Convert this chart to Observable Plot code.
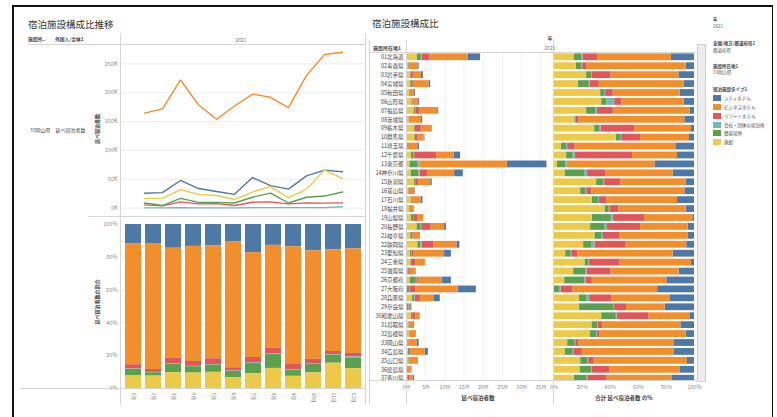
<!DOCTYPE html>
<html><head><meta charset="utf-8">
<script src="https://cdn.jsdelivr.net/npm/d3@7"></script>
<script src="https://cdn.jsdelivr.net/npm/@observablehq/plot@0.6"></script>
<style>
body{margin:0;background:#fff;font-family:"Noto Sans CJK JP","Noto Sans",sans-serif;}
#root{position:relative;width:777px;height:417px;overflow:hidden;background:#fff;}
#root svg{position:absolute;left:0;top:0;}
.t{position:absolute;white-space:nowrap;color:#333;line-height:1;}
.ln{position:absolute;background:#d6d6d6;}
</style></head><body><div id="root"></div><script>
// ---------- data ----------
const months = ["1月","2月","3月","4月","5月","6月","7月","8月","9月","10月","11月","12月"];
const types = ["シティホテル","ビジネスホテル","リゾートホテル","会社・団体の宿泊所","簡易宿所","旅館"];
const typeColors = ["#4e79a7","#f28e2b","#e15759","#76b7b2","#59a14f","#edc948"];
const stackOrder = ["旅館","簡易宿所","会社・団体の宿泊所","リゾートホテル","ビジネスホテル","シティホテル"];

// 33岡山県 monthly 延べ宿泊者数 (K)
const cityK     = [26,27,48,34,29,24,53,39,33,56,66,63];
const businessK = [164.5,172,222,179,154,177,197.5,192,174,230,266,270];
const resortK   = [5.8,4,11,7.5,8,4.6,10.4,11,7.5,9.2,8.7,9.2];
const companyK  = [0.5,0.5,1,0.5,0.5,0.5,1,1,1,1,1,2.5];
const simpleK   = [9,4.6,17,10,10,9,19,26,9,19,21,28];
const ryokanK   = [17,17,32,24,22,15,28,37.5,18,33,66,51];

const yTicksK = [0,50,100,150,200,250];
const pctTicks = [0,0.2,0.4,0.6,0.8,1];
const mTicks = [0,5,10,15,20,25,30,35];

const prefs = ["01北海道","02青森県","03岩手県","04宮城県","05秋田県","06山形県","07福島県","08茨城県","09栃木県","10群馬県","11埼玉県","12千葉県","13東京都","14神奈川県","15新潟県","16富山県","17石川県","18福井県","19山梨県","20長野県","21岐阜県","22静岡県","23愛知県","24三重県","25滋賀県","26京都府","27大阪府","28兵庫県","29奈良県","30和歌山県","31鳥取県","32島根県","33岡山県","34広島県","35山口県","36徳島県","37香川県"];
// 2021 total 延べ宿泊者数 (M)
const totalsM = [19.3,3.3,4.4,6.3,2.35,3.4,8.4,4.2,6.7,4.8,3.4,14.1,36.6,14.8,6.7,2.3,4.3,2.1,4.5,10.4,3.6,13.9,11.7,5.0,2.5,11.7,18.2,8.8,1.4,3.6,2.1,2.6,3.3,5.7,3.05,1.4,2.1];
// shares (%) by type
const cityPct     = [16.4,5.9,11.1,7.3,10.2,7.3,3.1,6.9,2.1,3.6,13.3,12.1,28.2,15.2,5.9,6.9,12.1,5.9,1.2,4.5,4.3,5.5,15.2,2.1,10.9,19.7,26.3,17.1,20.9,3.3,9.7,5.9,14.2,14.7,5.0,10.0,16.1];
const businessPct = [52.4,70.9,48.3,60.4,47.6,44.3,54.7,75.6,40.5,34.8,71.8,32.0,62.1,47.9,46.4,66.1,50.5,47.9,34.4,33.9,48.6,43.1,67.8,51.2,48.6,53.1,60.4,41.9,27.5,29.1,55.7,61.6,68.2,65.2,66.6,50.5,46.4];
const resortPct   = [10.4,2.8,13.3,6.4,5.5,5.2,11.4,2.1,23.9,13.5,5.2,41.0,0.2,13.0,11.6,3.8,5.2,6.4,22.3,23.7,11.8,22.3,4.5,21.3,17.1,4.3,8.5,15.6,8.5,22.5,3.1,1.7,2.1,6.2,3.8,12.3,13.5];
const companyPct  = [0.9,0.5,0.5,0.7,0.7,5.7,1.2,0.5,0.9,0.7,0.7,1.7,1.2,2.1,0.7,0.5,0.5,0.5,1.4,1.7,1.4,2.4,0.5,0.5,0.7,1.2,0.7,1.9,0.7,0.7,0.5,0.5,0.7,0.5,0.5,0.5,0.7];
const simplePct   = [5.7,4.0,3.6,7.8,2.8,3.6,6.4,0.5,3.6,3.1,3.8,4.3,5.9,14.0,5.0,3.8,4.5,3.1,13.5,10.2,4.7,5.7,3.8,2.8,8.8,14.2,4.0,5.5,24.2,10.4,4.0,4.7,5.0,5.7,5.2,8.3,8.8];
const ryokanPct   = [14.2,15.9,23.2,17.3,33.2,33.9,23.2,14.5,28.9,44.3,5.2,9.0,2.4,7.8,30.3,19.0,27.3,36.3,27.3,26.1,29.1,21.1,8.3,22.0,14.0,7.6,0.3,18.0,18.2,33.9,27.0,25.6,9.7,7.8,19.0,18.5,14.5];

// ---------- tables ----------
const monthly = [cityK,businessK,resortK,companyK,simpleK,ryokanK];
const lineData = [];
types.forEach((t,k)=>monthly[k].forEach((v,j)=>lineData.push({type:t,month:months[j],value:v})));
const pctArr = [cityPct,businessPct,resortPct,companyPct,simplePct,ryokanPct];
const prefData = [];
prefs.forEach((p,i)=>{
  const s = d3.sum(pctArr,a=>a[i]);
  types.forEach((t,k)=>prefData.push({pref:p,type:t,value:totalsM[i]*pctArr[k][i]/s}));
});

const root = document.getElementById("root");
const FONT = '"Noto Sans CJK JP","Noto Sans",sans-serif';
const color = {domain:types, range:typeColors};
const base = {width:777,height:417,style:{background:"transparent",fontFamily:FONT,fontSize:"5.5px",overflow:"visible"}};

function T(x,y,s,o={}){
  const d=document.createElement("div");d.className="t";d.textContent=s;
  d.style.left=x+"px";d.style.top=y+"px";d.style.fontSize=(o.size||5)+"px";
  d.style.fontWeight=o.weight||400;d.style.color=o.color||"#333";
  const tx=o.anchor==="middle"?"-50%":o.anchor==="end"?"-100%":"0";
  d.style.transform=`translate(${tx},-50%)`+(o.rotate?` rotate(${o.rotate}deg)`:"");
  root.appendChild(d);
}
function L(x,y,w,h,c){const d=document.createElement("div");d.className="ln";
  Object.assign(d.style,{left:x+"px",top:y+"px",width:w+"px",height:h+"px"});if(c)d.style.background=c;root.appendChild(d);return d;}

// ---------- left: line chart ----------
root.appendChild(Plot.plot({...base,
  marginLeft:120,marginRight:412,marginTop:44,marginBottom:201,
  x:{type:"point",domain:months,range:[131,355],axis:null},
  y:{domain:[0,250],range:[207.7,63.3]},
  color,
  marks:[
    Plot.gridY(yTicksK,{stroke:"#000",strokeOpacity:0.07}),
    Plot.axisY(yTicksK,{anchor:"left",tickSize:0,tickPadding:3,tickFormat:d=>d+"K",fill:"#8a8a8a",fontSize:5.5,label:null}),
    Plot.line(lineData,{x:"month",y:"value",z:"type",stroke:"type",strokeWidth:1.4})
  ]}));

// ---------- left: 100% stacked bars ----------
root.appendChild(Plot.plot({...base,
  marginLeft:120,marginRight:412,marginTop:216,marginBottom:29,
  x:{type:"band",domain:months,range:[120.25,365.65],paddingInner:0.2,paddingOuter:0.1},
  y:{domain:[0,1],range:[388,224]},
  color,
  marks:[
    Plot.gridY(pctTicks,{stroke:"#000",strokeOpacity:0.06}),
    Plot.barY(lineData,{x:"month",y:"value",fill:"type",offset:"normalize",order:stackOrder}),
    Plot.axisY(pctTicks,{anchor:"left",tickSize:0,tickPadding:3,tickFormat:d=>Math.round(d*100)+"%",fill:"#8a8a8a",fontSize:5.5,label:null}),
    Plot.axisX({anchor:"bottom",tickSize:0,tickPadding:4,tickRotate:90,fill:"#777",fontSize:4.8,label:null})
  ]}));

// ---------- middle: absolute stacked bars ----------
root.appendChild(Plot.plot({...base,
  marginLeft:406,marginRight:224,marginTop:52,marginBottom:37,
  y:{type:"band",domain:prefs,range:[52.5,382.5],paddingInner:0.24,paddingOuter:0.1},
  x:{domain:[0,38.3],range:[406,553]},
  color,
  marks:[
    Plot.gridX(mTicks.slice(1),{stroke:"#000",strokeOpacity:0.06}),
    Plot.barX(prefData,{y:"pref",x:"value",fill:"type",order:stackOrder}),
    Plot.axisY({anchor:"left",tickSize:0,tickPadding:3,fill:"#444",fontSize:5.5,label:null}),
    Plot.axisX(mTicks,{anchor:"bottom",tickSize:0,tickPadding:5,tickFormat:d=>d+"M",fill:"#8a8a8a",fontSize:5.5,label:null})
  ]}));

// ---------- right: 100% stacked bars ----------
root.appendChild(Plot.plot({...base,
  marginLeft:553,marginRight:80,marginTop:52,marginBottom:37,
  y:{type:"band",domain:prefs,range:[52.5,382.5],paddingInner:0.24,paddingOuter:0.1,axis:null},
  x:{domain:[0,1],range:[553.5,694]},
  color,
  marks:[
    Plot.barX(prefData,{y:"pref",x:"value",fill:"type",offset:"normalize",order:stackOrder}),
    Plot.axisX(pctTicks,{anchor:"bottom",tickSize:0,tickPadding:5,tickFormat:d=>Math.round(d*100)+"%",fill:"#8a8a8a",fontSize:5.5,label:null})
  ]}));

// ---------- frame lines ----------
L(370,380.5,327,4,"#fff");           // cut off last row under the axis
L(12,5,761,1.5,"#111"); L(12,5,1.5,412,"#111"); L(771.5,5,1.5,412,"#111");
L(28,43.5,337,1); L(120,33,1,372); L(364.5,33,1,372);
L(88,215.5,277,1); L(20,388,345,1);
L(369,40,1,365); L(370,52,327,1); L(405.5,40,1,365); L(553,40,1,365); L(370,380,327,1);
const sb=L(697,44,7,336,"#ececec"); sb.style.border="1px solid #d0d0d0";

// ---------- texts ----------
T(28,25,"宿泊施設構成比推移",{size:9.5,color:"#333"});
T(28,39,"施設所..",{size:4.8,weight:700,color:"#444"});
T(55,39,"外国人/全体1",{size:4.8,weight:700,color:"#444"});
T(241,39,"2021",{size:5,anchor:"middle",color:"#777"});
T(30,129,"33岡山県　延べ宿泊者数",{size:5,color:"#444"});
T(96,129,"延べ宿泊者数",{size:5,anchor:"middle",rotate:-90,weight:700,color:"#444"});
T(96,302,"延べ宿泊者数の割合",{size:5,anchor:"middle",rotate:-90,weight:700,color:"#444"});

T(372,24,"宿泊施設構成比",{size:9.5,color:"#333"});
T(550,37,"年",{size:5,anchor:"middle",weight:700,color:"#444"});
T(550,47,"2021",{size:5,anchor:"middle",color:"#777"});
T(373,47,"施設所在地1",{size:5,weight:700,color:"#444"});
T(478,399,"延べ宿泊者数",{size:5.5,anchor:"middle",weight:700,color:"#444"});
T(624,399,"合計 延べ宿泊者数 の%",{size:5.5,anchor:"middle",weight:700,color:"#444"});

// legend
T(713,19,"年",{size:4.5,weight:700,color:"#444"});
T(713,26,"2021",{size:4.5,color:"#555"});
T(713,43,"全国/地方/都道府県1",{size:4.5,weight:700,color:"#444"});
T(713,50,"都道府県",{size:4.5,color:"#555"});
T(713,66,"施設所在地1",{size:4.5,weight:700,color:"#444"});
T(713,72,"33岡山県",{size:4.5,color:"#555"});
T(713,89,"宿泊施設タイプ1",{size:4.5,weight:700,color:"#444"});
const legY=[98,107,116,125,133,142];
types.forEach((t,i)=>{L(713,legY[i]-3,8,6,typeColors[i]);T(724,legY[i],t,{size:4.5,color:"#444"});});
</script></body></html>
